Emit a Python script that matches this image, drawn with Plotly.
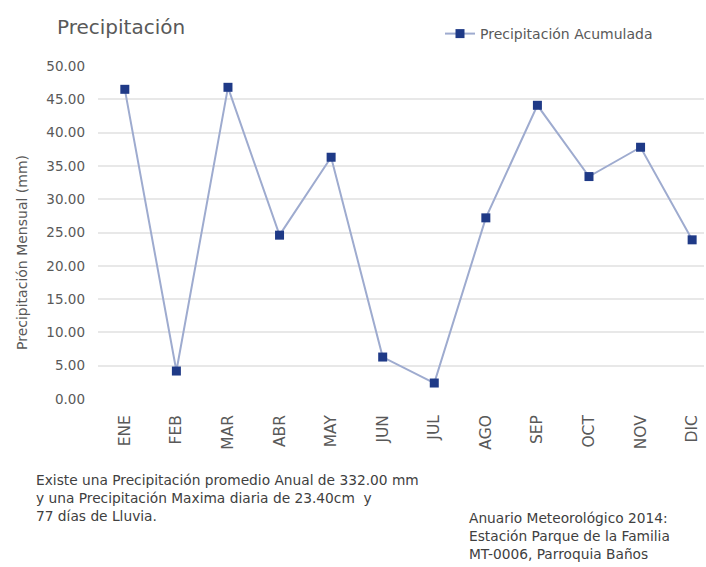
import plotly.graph_objects as go

# Monthly precipitation (mm), Parque de la Familia station, 2014
meses = ["ENE", "FEB", "MAR", "ABR", "MAY", "JUN", "JUL", "AGO", "SEP", "OCT", "NOV", "DIC"]
precipitacion = [46.5, 4.2, 46.8, 24.6, 36.3, 6.3, 2.4, 27.2, 44.1, 33.4, 37.8, 23.9]
y_ticks = [0, 5, 10, 15, 20, 25, 30, 35, 40, 45, 50]

W, H = 706, 567
L, R, T, B = 98, 2, 66, 168
plot_w = W - L - R
plot_h = H - T - B
FONT = "DejaVu Sans"


def px_x(px):
    return (px - L) / plot_w


def px_y(py):
    return (H - B - py) / plot_h


fig = go.Figure()
fig.add_trace(go.Scatter(
    x=list(range(len(meses))),
    y=precipitacion,
    mode="lines+markers",
    name="Precipitación Acumulada",
    line=dict(color="#9eabcf", width=2),
    marker=dict(color="#1f3a87", size=9, symbol="square",
                line=dict(width=0)),
))

notes_left = ("Existe una Precipitación promedio Anual de 332.00 mm<br>"
              "y una Precipitación Maxima diaria de 23.40cm  y<br>"
              "77 días de Lluvia.")
notes_right = ("Anuario Meteorológico 2014:<br>"
               "Estación Parque de la Familia<br>"
               "MT-0006, Parroquia Baños")

fig.update_layout(
    width=W, height=H,
    margin=dict(l=L, r=R, t=T, b=B),
    paper_bgcolor="white",
    plot_bgcolor="white",
    font=dict(family=FONT, color="#595959"),
    title=dict(text="Precipitación", x=57 / W, xanchor="left",
               xref="container", y=1 - 27 / H, yanchor="middle",
               yref="container",
               font=dict(size=20, color="#595959", family=FONT)),
    showlegend=True,
    legend=dict(x=px_x(440), y=px_y(18), xanchor="left", yanchor="top",
                font=dict(size=14, color="#595959", family=FONT),
                bgcolor="rgba(0,0,0,0)"),
    xaxis=dict(
        range=[-0.52, 11.23],
        tickmode="array",
        tickvals=list(range(len(meses))),
        ticktext=meses,
        tickangle=-90,
        tickfont=dict(size=15.5, color="#595959", family=FONT),
        showgrid=False, zeroline=False, showline=False,
        ticks="", ticklabelstandoff=12,
    ),
    yaxis=dict(
        range=[0, 50],
        tickmode="array",
        tickvals=y_ticks,
        ticktext=[f"{v:.2f}" for v in y_ticks],
        tickfont=dict(size=13.5, color="#595959", family=FONT),
        showgrid=True, gridcolor="#e8e8e8", gridwidth=1.5,
        zeroline=False, showline=False, ticks="",
        ticklabelstandoff=12,
    ),
    annotations=[
        dict(text="Precipitación Mensual (mm)", textangle=-90,
             xref="paper", yref="paper", x=px_x(22), y=px_y(253),
             xanchor="center", yanchor="middle", showarrow=False,
             font=dict(size=14, color="#595959", family=FONT)),
        dict(text=notes_left, xref="paper", yref="paper",
             x=px_x(34), y=px_y(470), xanchor="left", yanchor="top",
             align="left", showarrow=False,
             font=dict(size=13.75, color="#404040", family=FONT)),
        dict(text=notes_right, xref="paper", yref="paper",
             x=px_x(467), y=px_y(508), xanchor="left", yanchor="top",
             align="left", showarrow=False,
             font=dict(size=13.75, color="#404040", family=FONT)),
    ],
)

fig.write_html("out.html")
